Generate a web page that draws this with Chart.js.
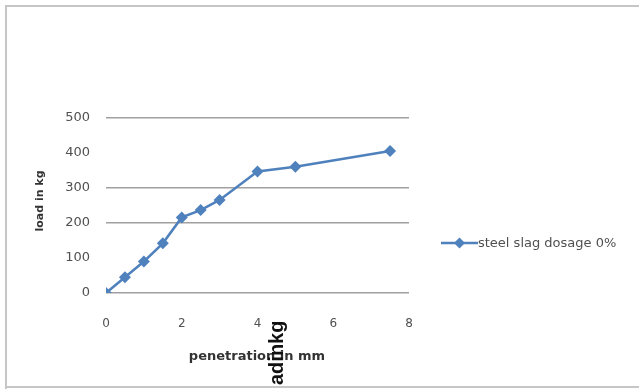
<!DOCTYPE html>
<html>
<head>
<meta charset="utf-8">
<script src="https://cdn.jsdelivr.net/npm/chart.js@4/dist/chart.umd.min.js"></script>
<style>
  html, body { margin: 0; padding: 0; background: #fff; }
  #wrap { width: 639px; height: 389px; position: relative; }
</style>
</head>
<body>
<div id="wrap"><canvas id="c" width="639" height="389"></canvas></div>
<script>
// penetration (mm) and load (kg) for the 0% steel slag mix
const penetration = [0, 0.5, 1, 1.5, 2, 2.5, 3, 4, 5, 7.5];
const load = [0, 45, 90, 142, 216, 237, 266, 347, 361, 406];
const seriesName = 'steel slag dosage 0%';
const xTitle = 'penetration in mm';
const yTitle = 'load in kg';
const overlayText = 'adinkg';
const xTicks = [0, 2, 4, 6, 8];
const yTicks = [0, 100, 200, 300, 400, 500];
const yGridShown = [0, 200, 300, 500];

const lineColor = '#4f81bd';
const textColor = '#505050';

// outer frame, axis titles, legend and the stray label
const decorations = {
  id: 'decorations',
  beforeDraw(chart) {
    const ctx = chart.ctx;
    ctx.save();
    ctx.fillStyle = '#fff';
    ctx.fillRect(0, 0, chart.width, chart.height);
    ctx.strokeStyle = '#c6c6c6';
    ctx.lineWidth = 2;
    ctx.beginPath();
    ctx.moveTo(639, 6);
    ctx.lineTo(6, 6);
    ctx.lineTo(6, 389);
    ctx.moveTo(6, 387);
    ctx.lineTo(639, 387);
    ctx.stroke();
    ctx.restore();
  },
  afterDraw(chart) {
    const ctx = chart.ctx;
    ctx.save();
    // y title
    ctx.fillStyle = '#333';
    ctx.font = 'bold 11px "DejaVu Sans"';
    ctx.textAlign = 'center';
    ctx.textBaseline = 'middle';
    ctx.translate(40, 201);
    ctx.rotate(-Math.PI / 2);
    ctx.fillText(yTitle, 0, 0);
    ctx.restore();

    // x title
    ctx.save();
    ctx.fillStyle = '#333';
    ctx.font = 'bold 13px "DejaVu Sans"';
    ctx.textAlign = 'center';
    ctx.textBaseline = 'middle';
    ctx.fillText(xTitle, 257, 357);
    ctx.restore();

    // legend
    const ds = chart.data.datasets[0];
    ctx.save();
    const ly = 243;
    ctx.strokeStyle = ds.borderColor;
    ctx.lineWidth = 2.5;
    ctx.beginPath();
    ctx.moveTo(441, ly);
    ctx.lineTo(478, ly);
    ctx.stroke();
    ctx.fillStyle = ds.borderColor;
    ctx.beginPath();
    ctx.moveTo(459.5, ly - 5.5);
    ctx.lineTo(465, ly);
    ctx.lineTo(459.5, ly + 5.5);
    ctx.lineTo(454, ly);
    ctx.closePath();
    ctx.fill();
    ctx.fillStyle = textColor;
    ctx.font = '13px "DejaVu Sans"';
    ctx.textAlign = 'left';
    ctx.textBaseline = 'middle';
    ctx.fillText(ds.label, 478, ly + 1);
    ctx.restore();

    // large rotated label near the bottom
    ctx.save();
    ctx.fillStyle = '#111';
    ctx.font = 'bold 20px "Liberation Sans"';
    ctx.textAlign = 'left';
    ctx.textBaseline = 'alphabetic';
    ctx.translate(283, 385);
    ctx.rotate(-Math.PI / 2);
    ctx.fillText(overlayText, 0, 0);
    ctx.restore();
  }
};

new Chart(document.getElementById('c'), {
  type: 'line',
  data: {
    datasets: [{
      label: seriesName,
      data: penetration.map((x, i) => ({ x, y: load[i] })),
      borderColor: lineColor,
      backgroundColor: lineColor,
      borderWidth: 2.5,
      pointStyle: 'rectRot',
      pointRadius: 6,
      pointBorderWidth: 0,
      tension: 0,
      fill: false
    }]
  },
  options: {
    responsive: false,
    animation: false,
    devicePixelRatio: 1,
    layout: { padding: { top: 118, right: 230, left: 0, bottom: 0 } },
    plugins: { legend: { display: false }, tooltip: { enabled: false } },
    scales: {
      x: {
        type: 'linear',
        min: 0,
        max: 8,
        afterFit(scale) { scale.height = 96; },
        afterBuildTicks(scale) { scale.ticks = xTicks.map(v => ({ value: v })); },
        border: { display: false },
        grid: { display: false, drawTicks: false },
        ticks: {
          padding: 24,
          color: textColor,
          font: { family: 'DejaVu Sans', size: 12 },
          maxRotation: 0
        }
      },
      y: {
        min: 0,
        max: 500,
        afterFit(scale) { scale.width = 106; },
        afterBuildTicks(scale) { scale.ticks = yTicks.map(v => ({ value: v })); },
        border: { display: false },
        grid: {
          drawTicks: false,
          lineWidth: 1.6,
          color: ctx => (ctx.tick && yGridShown.includes(ctx.tick.value)) ? '#a0a0a0' : 'rgba(0,0,0,0)'
        },
        ticks: {
          padding: 16,
          color: textColor,
          font: { family: 'DejaVu Sans', size: 13 }
        }
      }
    }
  },
  plugins: [decorations]
});
</script>
</body>
</html>
